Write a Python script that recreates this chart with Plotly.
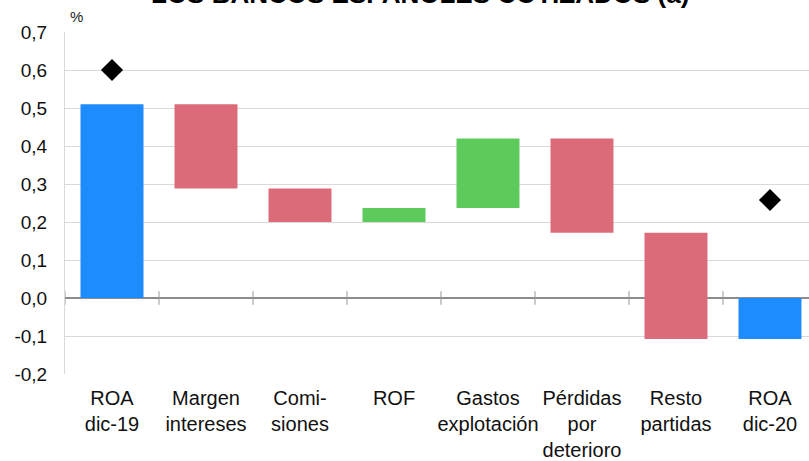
import plotly.graph_objects as go

categories = ["ROA<br>dic-19", "Margen<br>intereses", "Comi-<br>siones", "ROF",
              "Gastos<br>explotación", "Pérdidas<br>por<br>deterioro", "Resto<br>partidas", "ROA<br>dic-20"]
measures = ["absolute", "relative", "relative", "relative", "relative", "relative", "relative", "total"]
values = [0.51, -0.222, -0.088, 0.037, 0.183, -0.248, -0.28, 0]
diamond_cats = ["ROA<br>dic-19", "ROA<br>dic-20"]
diamond_vals = [0.60, 0.258]
ytick_vals = [-0.2, -0.1, 0.0, 0.1, 0.2, 0.3, 0.4, 0.5, 0.6, 0.7]
ytick_text = ["-0,2", "-0,1", "0,0", "0,1", "0,2", "0,3", "0,4", "0,5", "0,6", "0,7"]

BLUE = "#1E8CFF"
RED = "#DB6B78"
GREEN = "#5CCB5C"
FONT = "Liberation Sans, Arial, sans-serif"

fig = go.Figure()
fig.add_trace(go.Waterfall(
    x=categories, y=values, measure=measures,
    increasing=dict(marker=dict(color=GREEN)),
    decreasing=dict(marker=dict(color=RED)),
    totals=dict(marker=dict(color=BLUE)),
    connector=dict(visible=False),
    showlegend=False, hoverinfo="skip",
))
fig.add_trace(go.Scatter(
    x=diamond_cats, y=diamond_vals, mode="markers",
    marker=dict(symbol="diamond", size=17, color="black"),
    showlegend=False, hoverinfo="skip",
))

# category separator ticks on the zero line
for i in range(len(categories)):
    fig.add_shape(type="line", xref="x", yref="y", x0=i - 0.5, x1=i - 0.5,
                  y0=-0.018, y1=0.018, line=dict(color="#999999", width=1))

fig.add_annotation(text="LOS BANCOS ESPAÑOLES COTIZADOS (a)", xref="paper", yref="paper",
                   x=(420 - 65) / 744, y=1, xanchor="center", yanchor="bottom", yshift=21,
                   showarrow=False, font=dict(family=FONT, size=26, color="black", weight="bold"))
fig.add_annotation(text="%", xref="paper", yref="paper", x=0, y=1, xanchor="left",
                   yanchor="bottom", xshift=3, yshift=5, showarrow=False,
                   font=dict(family=FONT, size=15, color="#222"))

fig.update_layout(
    width=809, height=461,
    margin=dict(l=65, r=0, t=32, b=87),
    plot_bgcolor="white", paper_bgcolor="white",
    waterfallgap=0.33,
    font=dict(family=FONT, size=20, color="#111"),
    xaxis=dict(range=[-0.5, 7.415], showgrid=False, showline=False, ticks="",
               tickfont=dict(size=20), fixedrange=True, automargin=False,
               ticklabelstandoff=10),
    yaxis=dict(range=[-0.2, 0.7], tickvals=ytick_vals, ticktext=ytick_text,
               showgrid=True, gridcolor="#D9D9D9", gridwidth=1,
               zeroline=True, zerolinecolor="#8C8C8C", zerolinewidth=1.5,
               showline=True, linecolor="#D9D9D9", linewidth=1, automargin=False,
               ticks="", ticklabelstandoff=13, tickfont=dict(size=19), fixedrange=True),
)
fig.write_html("out.html", config={"displayModeBar": False},
               post_script="document.body.style.margin='0';document.body.style.padding='0';")
